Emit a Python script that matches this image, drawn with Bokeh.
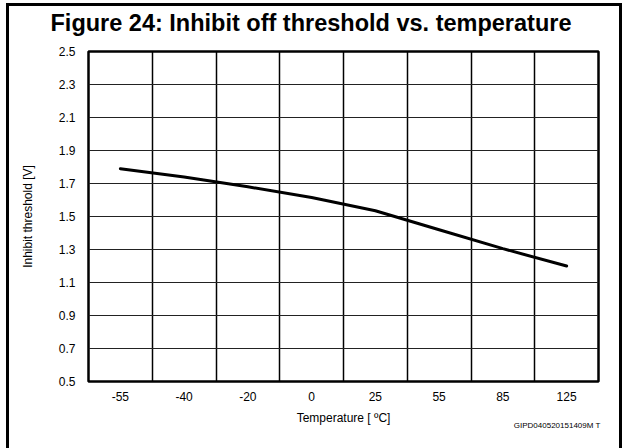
import numpy as np
from bokeh.plotting import figure
from bokeh.models import Range1d, FixedTicker, Title
from bokeh.embed import file_html
from bokeh.resources import INLINE

# Temperature points (evenly spaced columns) and measured inhibit-off threshold
temperatures = ["-55", "-40", "-20", "0", "25", "55", "85", "125"]
threshold_v = [1.79, 1.74, 1.68, 1.615, 1.535, 1.42, 1.305, 1.20]
y_ticks = [0.5, 0.7, 0.9, 1.1, 1.3, 1.5, 1.7, 1.9, 2.1, 2.3, 2.5]

FONT = "Liberation Sans"

n = len(temperatures)
xc = [i + 0.5 for i in range(n)]           # centre of each column
col_edges = [i for i in range(1, n)]       # vertical grid between columns

p = figure(width=616, height=455, output_backend="svg", toolbar_location=None,
           x_range=Range1d(0, n), y_range=Range1d(0.5, 2.5),
           min_border_left=79, min_border_right=27,
           min_border_top=45, min_border_bottom=80,
           background_fill_color="white", border_fill_color="white")
p.styles = {"border": "3px solid black", "margin": "3px 0 0 6px"}

p.outline_line_color = "black"
p.outline_line_width = 2.5

# grid
p.xgrid.ticker = FixedTicker(ticks=col_edges)
p.xgrid.grid_line_color = "black"
p.xgrid.grid_line_width = 1.5
p.ygrid.ticker = FixedTicker(ticks=y_ticks)
p.ygrid.grid_line_color = "#222222"
p.ygrid.grid_line_width = 1.2

# axes
p.xaxis.ticker = FixedTicker(ticks=xc)
p.xaxis.major_label_overrides = {x: t for x, t in zip(xc, temperatures)}
p.yaxis.ticker = FixedTicker(ticks=y_ticks)
p.yaxis.major_label_overrides = {v: f"{v:.1f}" for v in y_ticks}
for ax in (p.xaxis[0], p.yaxis[0]):
    ax.axis_line_color = None
    ax.major_tick_line_color = None
    ax.minor_tick_line_color = None
    ax.major_label_text_font = FONT
    ax.major_label_text_font_size = "12px"
    ax.major_label_text_color = "black"
    ax.axis_label_text_font = FONT
    ax.axis_label_text_font_size = "12px"
    ax.axis_label_text_font_style = "normal"
    ax.axis_label_text_color = "black"
p.xaxis.axis_label = "Temperature [ ºC]"
p.yaxis.axis_label = "Inhibit threshold [V]"
p.xaxis.major_label_standoff = 4
p.xaxis.axis_label_standoff = 7
p.yaxis.major_label_standoff = 7
p.yaxis.axis_label_standoff = 21

p.line(xc, threshold_v, line_color="black", line_width=3, line_join="round", line_cap="round")

# blank gap between the plot frame and the heading
p.add_layout(Title(text=" ", text_font_size="1px", standoff=13), "above")

# heading
p.title.text = "Figure 24: Inhibit off threshold vs. temperature"
p.title.text_font = FONT
p.title.text_font_size = "23.5px"
p.title.text_font_style = "bold"
p.title.text_color = "black"
p.title.align = "left"
p.title.offset = -38
p.title.vertical_align = "bottom"
p.title.standoff = 0

# drawing code under the x axis
p.add_layout(Title(text="GIPD040520151409M T", text_font=FONT, text_font_size="8px",
                   text_font_style="normal", text_color="black", align="right",
                   offset=-2, vertical_align="top", standoff=-14), "below")

open("out.html", "w").write(file_html(p, INLINE))
